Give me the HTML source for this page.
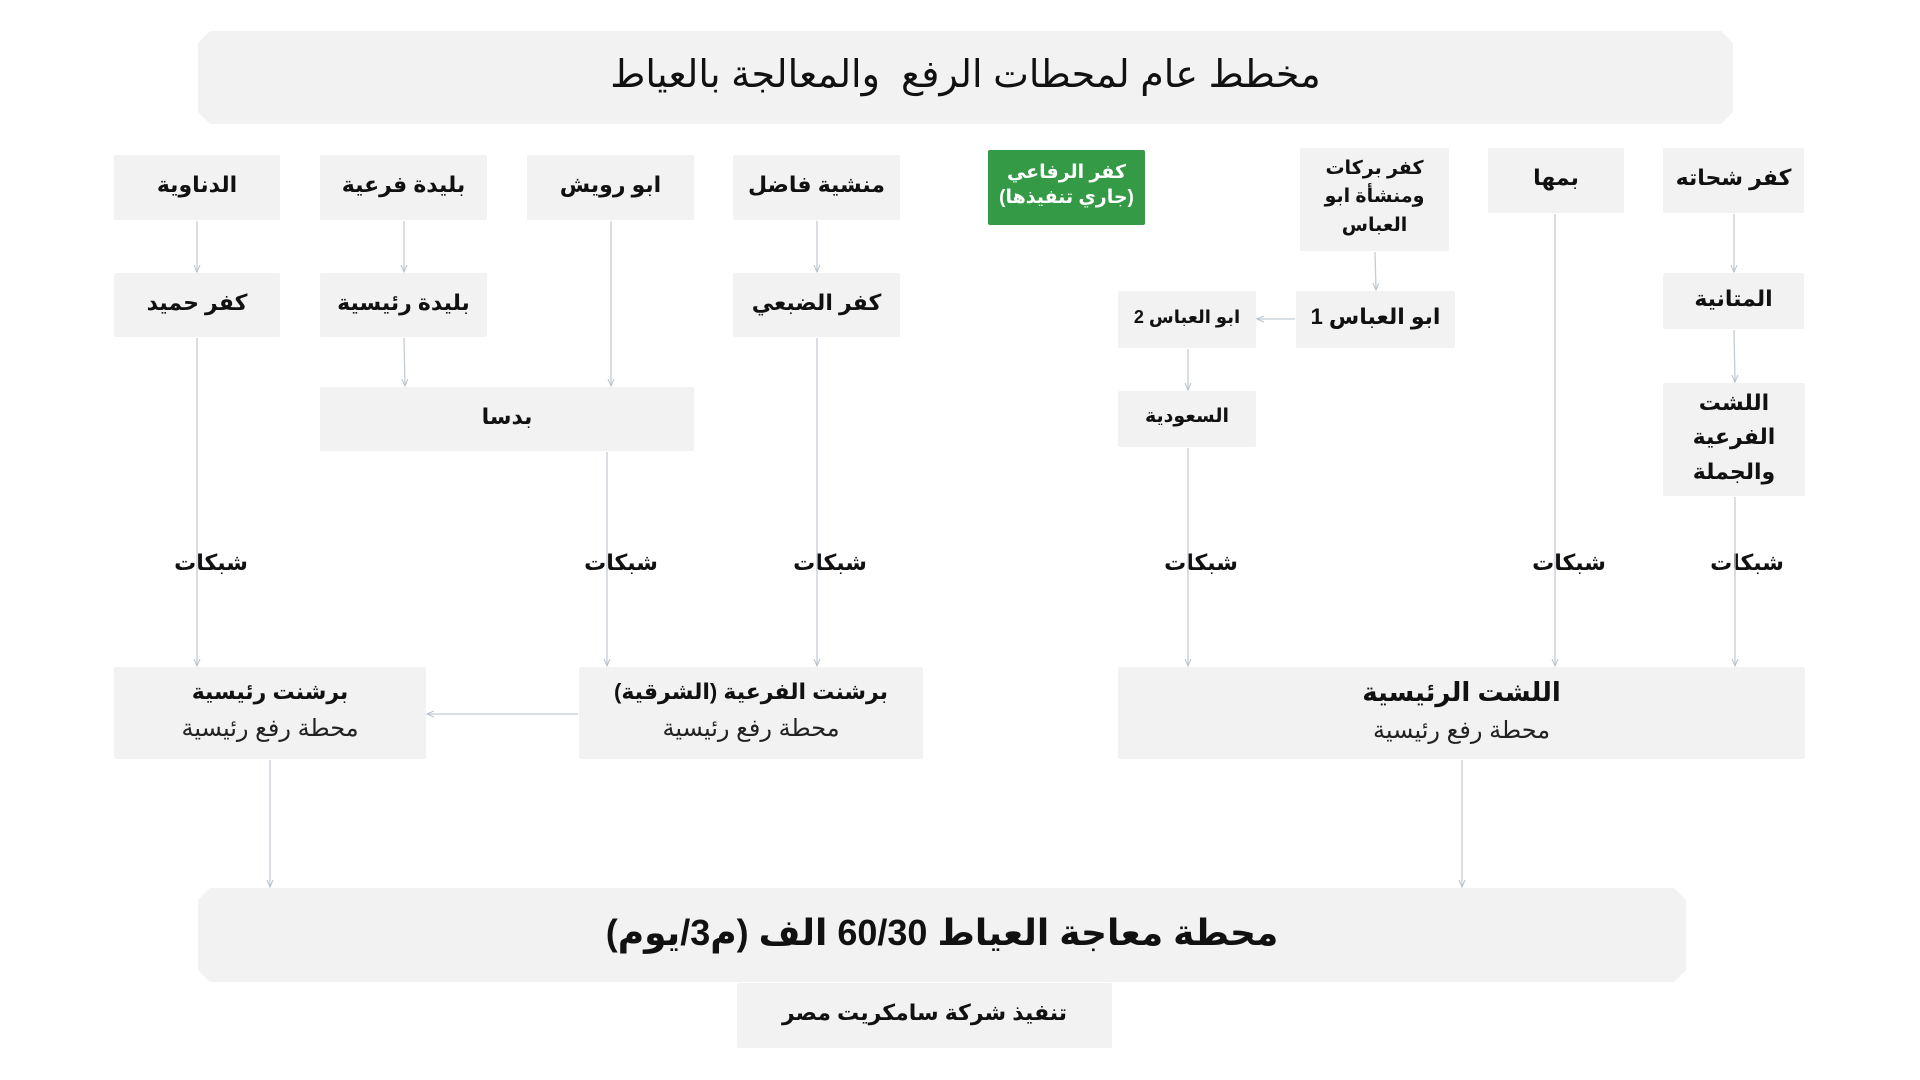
<!DOCTYPE html>
<html lang="ar" dir="rtl"><head><meta charset="utf-8">
<style>
html,body{margin:0;padding:0;background:#fff;}
body{width:1920px;height:1080px;position:relative;overflow:hidden;font-family:"Liberation Sans","Noto Sans CJK SC","DejaVu Sans",sans-serif;color:#111;}
.b{position:absolute;background:#f2f2f2;display:flex;flex-direction:column;align-items:center;justify-content:center;text-align:center;font-weight:bold;font-size:22px;line-height:1.3;box-sizing:border-box;border-radius:2px;padding-bottom:4px}
.big{clip-path:polygon(12px 0,calc(100% - 12px) 0,100% 12px,100% calc(100% - 12px),calc(100% - 12px) 100%,12px 100%,0 calc(100% - 12px),0 12px);}
.sub{font-weight:normal;font-size:24px;color:#222;margin-top:6px}
.lab{position:absolute;font-weight:bold;font-size:22px;transform:translateX(-50%);top:550px;background:transparent}
svg{position:absolute;left:0;top:0}
</style></head><body>
<div class="b big" style="left:198px;top:31px;width:1535px;height:93px;font-weight:normal;font-size:38px;">مخطط عام لمحطات الرفع&nbsp; والمعالجة بالعياط</div>

<div class="b" style="left:114px;top:155px;width:166px;height:65px">الدناوية</div>
<div class="b" style="left:320px;top:155px;width:167px;height:65px">بليدة فرعية</div>
<div class="b" style="left:527px;top:155px;width:167px;height:65px">ابو رويش</div>
<div class="b" style="left:733px;top:155px;width:167px;height:65px">منشية فاضل</div>
<div class="b" style="left:988px;top:150px;width:157px;height:75px;background:#349a46;color:#fff;font-size:19px">كفر الرفاعي<br>(جاري تنفيذها)</div>
<div class="b" style="left:1300px;top:148px;width:149px;height:103px;font-size:19px;line-height:1.5">كفر بركات<br>ومنشأة ابو<br>العباس</div>
<div class="b" style="left:1488px;top:148px;width:136px;height:65px">بمها</div>
<div class="b" style="left:1663px;top:148px;width:141px;height:65px">كفر شحاته</div>

<div class="b" style="left:114px;top:273px;width:166px;height:64px">كفر حميد</div>
<div class="b" style="left:320px;top:273px;width:167px;height:64px">بليدة رئيسية</div>
<div class="b" style="left:733px;top:273px;width:167px;height:64px">كفر الضبعي</div>
<div class="b" style="left:1118px;top:291px;width:138px;height:57px;font-size:18px">ابو العباس 2</div>
<div class="b" style="left:1296px;top:291px;width:159px;height:57px">ابو العباس 1</div>
<div class="b" style="left:1663px;top:273px;width:141px;height:56px">المتانية</div>

<div class="b" style="left:320px;top:387px;width:374px;height:64px">بدسا</div>
<div class="b" style="left:1118px;top:391px;width:138px;height:56px;font-size:19px">السعودية</div>
<div class="b" style="left:1663px;top:383px;width:142px;height:113px;line-height:1.55">اللشت<br>الفرعية<br>والجملة</div>

<div class="lab" style="left:211px">شبكات</div>
<div class="lab" style="left:621px">شبكات</div>
<div class="lab" style="left:830px">شبكات</div>
<div class="lab" style="left:1201px">شبكات</div>
<div class="lab" style="left:1569px">شبكات</div>
<div class="lab" style="left:1747px">شبكات</div>

<div class="b" style="left:114px;top:667px;width:312px;height:92px">برشنت رئيسية<div class="sub">محطة رفع رئيسية</div></div>
<div class="b" style="left:579px;top:667px;width:344px;height:92px">برشنت الفرعية (الشرقية)<div class="sub">محطة رفع رئيسية</div></div>
<div class="b" style="left:1118px;top:667px;width:687px;height:92px;font-size:26px">اللشت الرئيسية<div class="sub">محطة رفع رئيسية</div></div>

<div class="b big" style="left:198px;top:888px;width:1488px;height:94px;font-size:36px">محطة معاجة العياط 60/30 الف (م3/يوم)</div>
<div class="b" style="left:737px;top:983px;width:375px;height:65px">تنفيذ شركة سامكريت مصر</div>

<svg width="1920" height="1080" viewBox="0 0 1920 1080">
<defs><marker id="a" markerWidth="8" markerHeight="8" refX="7" refY="4" orient="auto" markerUnits="userSpaceOnUse"><path d="M0,1 L7,4 L0,7" fill="none" stroke="#b8c2cc" stroke-width="1"/></marker></defs>
<g stroke="#c4ccd4" stroke-width="1.3" fill="none" marker-end="url(#a)">
<line x1="197" y1="221" x2="197" y2="272"/>
<line x1="404" y1="221" x2="404" y2="272"/>
<line x1="817" y1="221" x2="817" y2="272"/>
<line x1="404" y1="338" x2="405" y2="386"/>
<line x1="611" y1="221" x2="611" y2="386"/>
<line x1="197" y1="338" x2="197" y2="666"/>
<line x1="607" y1="452" x2="607" y2="666"/>
<line x1="817" y1="338" x2="817" y2="666"/>
<line x1="1375" y1="252" x2="1376" y2="290"/>
<line x1="1295" y1="319" x2="1257" y2="319"/>
<line x1="1188" y1="349" x2="1188" y2="390"/>
<line x1="1188" y1="448" x2="1188" y2="666"/>
<line x1="1555" y1="214" x2="1555" y2="666"/>
<line x1="1734" y1="214" x2="1734" y2="272"/>
<line x1="1734" y1="330" x2="1735" y2="382"/>
<line x1="1735" y1="497" x2="1735" y2="666"/>
<line x1="578" y1="714" x2="427" y2="714"/>
<line x1="270" y1="760" x2="270" y2="887"/>
<line x1="1462" y1="760" x2="1462" y2="887"/>
</g>
</svg>
</body></html>
